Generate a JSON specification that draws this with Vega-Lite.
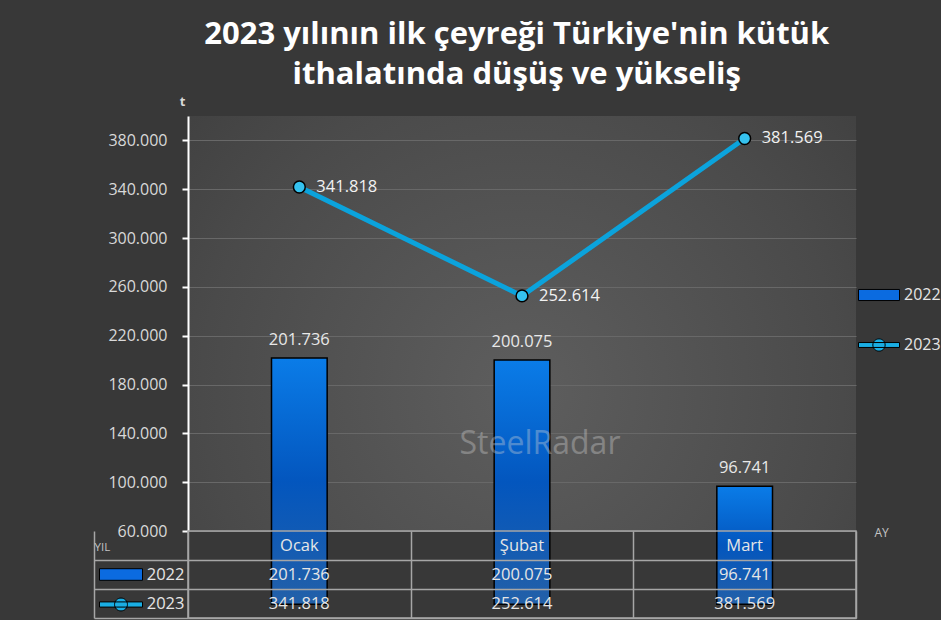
{
  "$schema": "https://vega.github.io/schema/vega-lite/v6.json",
  "background": "#383838",
  "padding": {"left": 92, "top": 19, "right": 0, "bottom": 0},
  "title": {
    "text": ["2023 yılının ilk çeyreği Türkiye'nin kütük", "ithalatında düşüş ve yükseliş"],
    "font": "Open Sans",
    "fontSize": 31,
    "fontWeight": "bold",
    "color": "#ffffff",
    "lineHeight": 40,
    "anchor": "middle",
    "offset": 4
  },
  "datasets": {
    "ithalat": [
      {"ay": "Ocak", "yil": "2022", "ton": 201736},
      {"ay": "Şubat", "yil": "2022", "ton": 200075},
      {"ay": "Mart", "yil": "2022", "ton": 96741},
      {"ay": "Ocak", "yil": "2023", "ton": 341818},
      {"ay": "Şubat", "yil": "2023", "ton": 252614},
      {"ay": "Mart", "yil": "2023", "ton": 381569}
    ]
  },
  "spacing": 0,
  "bounds": "flush",
  "resolve": {
    "scale": {"color": "independent", "shape": "independent", "x": "independent", "y": "independent"},
    "legend": {"color": "independent", "shape": "independent"}
  },
  "vconcat": [
    {
      "width": 668,
      "height": 415,
      "data": {"name": "ithalat"},
      "view": {
        "stroke": null,
        "fill": {
          "gradient": "radial",
          "x1": 0.5, "y1": 0.6, "r1": 0,
          "x2": 0.5, "y2": 0.6, "r2": 0.8,
          "stops": [
            {"offset": 0, "color": "#5e5e5e"},
            {"offset": 0.6, "color": "#4a4a4a"},
            {"offset": 1, "color": "#3a3a3a"}
          ]
        }
      },
      "encoding": {
        "x": {
          "field": "ay",
          "type": "nominal",
          "scale": {"type": "band", "domain": ["Ocak", "Şubat", "Mart"], "paddingInner": 0.75, "paddingOuter": 0.375},
          "axis": null
        }
      },
      "layer": [
        {
          "transform": [{"filter": "datum.yil == '2022'"}],
          "mark": {
            "type": "bar",
            "stroke": "#000000",
            "strokeWidth": 1.5,
            "color": {
              "gradient": "linear",
              "x1": 0, "y1": 0, "x2": 0, "y2": 1,
              "stops": [
                {"offset": 0, "color": "#0a7ce8"},
                {"offset": 0.5, "color": "#0356be"},
                {"offset": 1, "color": "#2360a8"}
              ]
            }
          },
          "encoding": {
            "y": {
              "field": "ton",
              "type": "quantitative",
              "scale": {"domain": [60000, 400000], "nice": false, "zero": false},
              "axis": {
                "values": [60000, 100000, 140000, 180000, 220000, 260000, 300000, 340000, 380000],
                "format": ",d",
                "labelFont": "Open Sans",
                "labelFontSize": 16,
                "labelColor": "#d9d9d9",
                "labelPadding": 15,
                "tickSize": 6,
                "tickColor": "#ffffff",
                "tickWidth": 2,
                "domainColor": "#ffffff",
                "domainWidth": 2,
                "grid": true,
                "gridColor": "#686868",
                "gridWidth": 1,
                "title": "t",
                "titleFont": "Open Sans",
                "titleFontSize": 13,
                "titleFontWeight": "bold",
                "titleColor": "#d9d9d9",
                "titleAngle": 0,
                "titleAlign": "center",
                "titleBaseline": "alphabetic",
                "titleX": -6,
                "titleY": -11
              }
            }
          }
        },
        {
          "transform": [{"filter": "datum.yil == '2022'"}],
          "mark": {"type": "text", "font": "Open Sans", "fontSize": 16.5, "color": "#e8e8e8", "baseline": "alphabetic", "dy": -13},
          "encoding": {
            "y": {"field": "ton", "type": "quantitative"},
            "text": {"field": "ton", "type": "quantitative", "format": ",d"}
          }
        },
        {
          "transform": [{"filter": "datum.yil == '2023'"}],
          "mark": {"type": "line", "color": "#0ba3dc", "strokeWidth": 5},
          "encoding": {"y": {"field": "ton", "type": "quantitative"}}
        },
        {
          "transform": [{"filter": "datum.yil == '2023'"}],
          "mark": {"type": "point", "shape": "circle", "filled": true, "fill": "#35c2ef", "stroke": "#000000", "strokeWidth": 1.5, "size": 140, "opacity": 1},
          "encoding": {"y": {"field": "ton", "type": "quantitative"}}
        },
        {
          "transform": [{"filter": "datum.yil == '2023'"}],
          "mark": {"type": "text", "font": "Open Sans", "fontSize": 16.5, "color": "#f2f2f2", "align": "left", "baseline": "middle", "dx": 17},
          "encoding": {
            "y": {"field": "ton", "type": "quantitative"},
            "text": {"field": "ton", "type": "quantitative", "format": ",d"}
          }
        },
        {
          "transform": [{"filter": "false"}],
          "mark": {"type": "point", "filled": true, "opacity": 1},
          "encoding": {
            "color": {
              "field": "yil",
              "type": "nominal",
              "scale": {"domain": ["2022", "2023"], "range": ["#0b6be0", "#1aaee4"]},
              "legend": {
                "title": null, "orient": "none", "legendX": 670, "legendY": 158, "direction": "vertical",
                "symbolSize": 1681, "symbolStrokeColor": "#000000", "symbolStrokeWidth": 1,
                "labelFont": "Open Sans", "labelFontSize": 16, "labelColor": "#e6e6e6", "labelOffset": 4,
                "rowPadding": 21, "padding": 0
              }
            },
            "shape": {
              "field": "yil",
              "type": "nominal",
              "scale": {"domain": ["2022", "2023"], "range": ["M-1,-0.27H1V0.27H-1Z", "M-1,-0.12H1V0.12H-1Z M-0.3,0A0.3,0.3 0 1 1 0.3,0A0.3,0.3 0 1 1 -0.3,0Z"]},
              "legend": {
                "title": null, "orient": "none", "legendX": 670, "legendY": 158, "direction": "vertical",
                "symbolSize": 1681, "symbolStrokeColor": "#000000", "symbolStrokeWidth": 1,
                "labelFont": "Open Sans", "labelFontSize": 16, "labelColor": "#e6e6e6", "labelOffset": 4,
                "rowPadding": 21, "padding": 0
              }
            }
          }
        },
        {
          "data": {"values": [{"etiket": "SteelRadar"}]},
          "mark": {"type": "text", "font": "Open Sans", "fontSize": 32, "color": "#d6d6d6", "opacity": 0.35, "baseline": "middle", "dx": 18},
          "encoding": {
            "x": {"datum": "Şubat"},
            "y": {"datum": 131000, "type": "quantitative"},
            "text": {"field": "etiket"}
          }
        }
      ]
    },
    {
      "width": 668,
      "height": 87,
      "view": {"stroke": "#a6a6a6", "strokeWidth": 1.5},
      "encoding": {
        "x": {
          "field": "ay",
          "type": "nominal",
          "scale": {"type": "band", "domain": ["Ocak", "Şubat", "Mart"], "paddingInner": 0, "paddingOuter": 0},
          "axis": {"orient": "top", "tickBand": "extent", "grid": true, "gridColor": "#a6a6a6", "gridWidth": 1.5, "labels": false, "ticks": false, "domain": false, "title": null}
        }
      },
      "layer": [
        {
          "data": {"name": "ithalat"},
          "mark": {"type": "text", "font": "Open Sans", "fontSize": 16.5, "color": "#e6e6e6", "baseline": "middle"},
          "encoding": {
            "y": {
              "field": "yil",
              "type": "nominal",
              "scale": {"type": "band", "domain": ["Ay", "2022", "2023"], "paddingInner": 0, "paddingOuter": 0},
              "axis": {
                "orient": "left",
                "offset": 94,
                "bandPosition": 1,
                "tickSize": -94,
                "tickColor": "#a6a6a6",
                "tickWidth": 1.5,
                "domain": true,
                "domainColor": "#a6a6a6",
                "domainWidth": 1.5,
                "grid": true,
                "gridColor": "#a6a6a6",
                "gridWidth": 1.5,
                "labelExpr": "datum.value == 'Ay' ? '' : datum.value",
                "labelFont": "Open Sans",
                "labelFontSize": 16.5,
                "labelColor": "#e6e6e6",
                "labelAlign": "right",
                "labelBaseline": "middle",
                "labelPadding": 4,
                "title": "YIL",
                "titleFont": "Open Sans",
                "titleFontSize": 11.5,
                "titleFontWeight": "normal",
                "titleColor": "#c4c4c4",
                "titleAngle": 0,
                "titleAlign": "left",
                "titleBaseline": "middle",
                "titleX": 0,
                "titleY": 16
              }
            },
            "text": {"field": "ton", "type": "quantitative", "format": ",d"}
          }
        },
        {
          "data": {"name": "ithalat"},
          "transform": [{"filter": "datum.yil == '2022'"}],
          "mark": {"type": "text", "font": "Open Sans", "fontSize": 16.5, "color": "#e6e6e6", "baseline": "middle"},
          "encoding": {
            "y": {"datum": "Ay"},
            "text": {"field": "ay"}
          }
        },
        {
          "data": {"values": [{"etiket": "AY"}]},
          "mark": {"type": "text", "font": "Open Sans", "fontSize": 12, "color": "#c4c4c4", "baseline": "middle", "dx": 137, "dy": -13},
          "encoding": {
            "x": {"datum": "Mart"},
            "y": {"datum": "Ay"},
            "text": {"field": "etiket"}
          }
        },
        {
          "data": {"name": "ithalat"},
          "transform": [{"filter": "false"}],
          "mark": {"type": "point", "filled": true, "opacity": 1},
          "encoding": {
            "color": {
              "field": "yil",
              "type": "nominal",
              "scale": {"domain": ["2022", "2023"], "range": ["#0b6be0", "#1aaee4"]},
              "legend": {
                "title": null, "orient": "none", "legendX": -89, "legendY": 21.5, "direction": "vertical",
                "symbolSize": 1849, "symbolStrokeColor": "#000000", "symbolStrokeWidth": 1,
                "labelExpr": "''", "rowPadding": -13.5, "padding": 0
              }
            },
            "shape": {
              "field": "yil",
              "type": "nominal",
              "scale": {"domain": ["2022", "2023"], "range": ["M-1,-0.27H1V0.27H-1Z", "M-1,-0.12H1V0.12H-1Z M-0.3,0A0.3,0.3 0 1 1 0.3,0A0.3,0.3 0 1 1 -0.3,0Z"]},
              "legend": {
                "title": null, "orient": "none", "legendX": -89, "legendY": 21.5, "direction": "vertical",
                "symbolSize": 1849, "symbolStrokeColor": "#000000", "symbolStrokeWidth": 1,
                "labelExpr": "''", "rowPadding": -13.5, "padding": 0
              }
            }
          }
        }
      ]
    }
  ],
  "config": {
    "locale": {"number": {"decimal": ",", "thousands": ".", "grouping": [3], "currency": ["", " ₺"]}},
    "font": "Open Sans",
    "view": {"stroke": null}
  }
}
